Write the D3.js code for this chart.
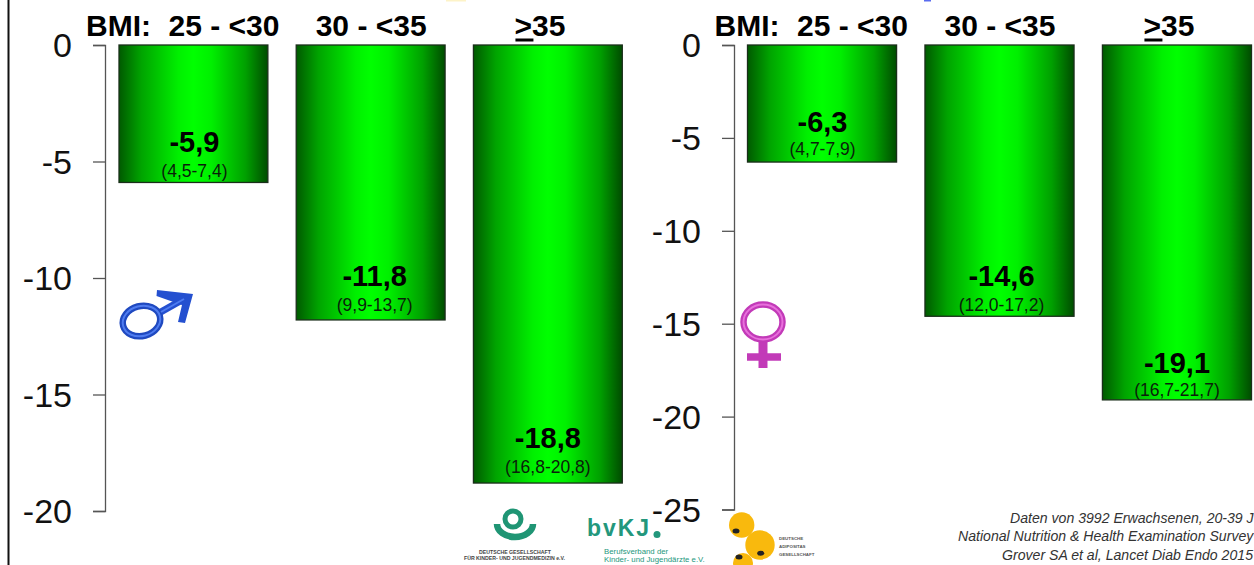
<!DOCTYPE html>
<html>
<head>
<meta charset="utf-8">
<style>
html, body { margin: 0; padding: 0; background: #fff; overflow: hidden; }
text { font-family: "Liberation Sans", Arial, sans-serif; }
.tick text { font-size: 34px; fill: #111; }
.tick line, .domain { stroke: #555; stroke-width: 1.3px; }
</style>
<script src="https://cdnjs.cloudflare.com/ajax/libs/d3/7.8.5/d3.min.js"></script>
</head>
<body>
<svg id="chart" width="1254" height="565"></svg>
<script>
var categories = ['25 - <30', '30 - <35', '>35'];
var menValues = [-5.9, -11.8, -18.8];
var menRanges = ['(4,5-7,4)', '(9,9-13,7)', '(16,8-20,8)'];
var womenValues = [-6.3, -14.6, -19.1];
var womenRanges = ['(4,7-7,9)', '(12,0-17,2)', '(16,7-21,7)'];
var menTicks = [0, -5, -10, -15, -20];
var womenTicks = [0, -5, -10, -15, -20, -25];
var sourceLines = [
    'Daten von 3992 Erwachsenen, 20-39 J',
    'National Nutrition & Health Examination Survey',
    'Grover SA et al, Lancet Diab Endo 2015'
];

// labels were placed by hand on the slide, so each panel keeps its own nudges
var menLabelNudge = { value: [30, 34, 35], range: [5, 9, 10], x: [1, 4, 0] };
var womenLabelNudge = { value: [30, 30, 27], range: [7, 5, 3.5], x: [0.5, 2, 0] };

var svg = d3.select('#chart');
var defs = svg.append('defs');

var grad = defs.append('linearGradient').attr('id', 'barGreen');
grad.append('stop').attr('offset', '0%').attr('stop-color', '#005a00');
grad.append('stop').attr('offset', '15%').attr('stop-color', '#00a400');
grad.append('stop').attr('offset', '40%').attr('stop-color', '#00f000');
grad.append('stop').attr('offset', '50%').attr('stop-color', '#00ff00');
grad.append('stop').attr('offset', '62%').attr('stop-color', '#00f000');
grad.append('stop').attr('offset', '85%').attr('stop-color', '#00a000');
grad.append('stop').attr('offset', '100%').attr('stop-color', '#004c00');

// frame line on the left
svg.append('line')
    .attr('x1', 8.5).attr('x2', 8.5).attr('y1', 0).attr('y2', 565)
    .attr('stroke', '#111').attr('stroke-width', 2);

function panel(values, ranges, ticks, nudge, axisX, barLeft, barSpan, yBottom) {
    var y = d3.scaleLinear()
        .domain([0, ticks[ticks.length - 1]])
        .range([45, yBottom]);
    var x = d3.scaleBand()
        .domain(categories)
        .range([barLeft, barLeft + barSpan])
        .paddingInner(0.16);

    var axis = svg.append('g')
        .attr('transform', 'translate(' + axisX + ',0)')
        .call(d3.axisLeft(y).tickValues(ticks).tickSize(12).tickPadding(21).tickFormat(function(d) { return String(d); }));
    axis.selectAll('.tick text').attr('dy', '0.35em');

    var bars = svg.append('g').selectAll('g')
        .data(values)
        .enter().append('g');

    bars.append('rect')
        .attr('x', function(d, i) { return x(categories[i]); })
        .attr('y', y(0))
        .attr('width', x.bandwidth())
        .attr('height', function(d) { return y(d) - y(0); })
        .attr('fill', 'url(#barGreen)')
        .attr('stroke', '#1a2e1a')
        .attr('stroke-width', 1.3);

    bars.append('text')
        .attr('x', function(d, i) { return x(categories[i]) + x.bandwidth() / 2 + nudge.x[i]; })
        .attr('y', function(d, i) { return y(d) - nudge.value[i]; })
        .attr('text-anchor', 'middle')
        .attr('font-size', 29)
        .attr('font-weight', 'bold')
        .attr('fill', '#000')
        .text(function(d) { return String(d).replace('.', ','); });

    bars.append('text')
        .attr('x', function(d, i) { return x(categories[i]) + x.bandwidth() / 2 + nudge.x[i]; })
        .attr('y', function(d, i) { return y(d) - nudge.range[i]; })
        .attr('text-anchor', 'middle')
        .attr('font-size', 17.5)
        .attr('fill', '#0a1f0a')
        .text(function(d, i) { return ranges[i]; });

    // column heads
    svg.append('g').selectAll('text')
        .data(categories)
        .enter().append('text')
        .attr('y', 36)
        .attr('font-size', 30)
        .attr('font-weight', 'bold')
        .attr('fill', '#000')
        .attr('text-anchor', 'middle')
        .attr('x', function(d, i) { return x(d) + x.bandwidth() / 2 + [30.5, 0.5, -8][i]; })
        .text(function(d) { return d; });

    svg.append('text')
        .attr('x', barLeft - 33)
        .attr('y', 36)
        .attr('font-size', 30)
        .attr('font-weight', 'bold')
        .text('BMI:');

    // underline under the > sign, it means "at least"
    svg.append('rect')
        .attr('x', x(categories[2]) + 42)
        .attr('y', 38.5)
        .attr('width', 18)
        .attr('height', 3)
        .attr('fill', '#000');
}

panel(menValues, menRanges, menTicks, menLabelNudge, 105, 119, 503.3, 511);
panel(womenValues, womenRanges, womenTicks, womenLabelNudge, 734, 747.5, 504, 509.5);

// male symbol
var male = svg.append('g').attr('fill', 'none');
male.append('line').attr('x1', 159).attr('y1', 313).attr('x2', 182).attr('y2', 300)
    .attr('stroke', '#2450d0').attr('stroke-width', 7);
male.append('path').attr('d', 'M157,290 L193,294 L185,323 L178,322 L182,305 L156.5,296 Z')
    .attr('fill', '#2450d0');
male.append('ellipse').attr('cx', 141.5).attr('cy', 321).attr('rx', 19).attr('ry', 15)
    .attr('transform', 'rotate(-15 141.5 321)')
    .attr('stroke', '#1f49c0').attr('stroke-width', 6.5);
male.append('ellipse').attr('cx', 141.5).attr('cy', 321).attr('rx', 19).attr('ry', 15)
    .attr('transform', 'rotate(-15 141.5 321)')
    .attr('stroke', '#4f7cf0').attr('stroke-width', 2);
male.append('line').attr('x1', 161).attr('y1', 312).attr('x2', 184).attr('y2', 299)
    .attr('stroke', '#4f7cf0').attr('stroke-width', 2);

// female symbol
var female = svg.append('g').attr('fill', 'none').attr('stroke', '#c23ab8');
female.append('line').attr('x1', 763).attr('y1', 340).attr('x2', 763).attr('y2', 368)
    .attr('stroke-width', 9);
female.append('line').attr('x1', 747).attr('y1', 357).attr('x2', 781).attr('y2', 357)
    .attr('stroke-width', 7.5);
female.append('ellipse').attr('cx', 763).attr('cy', 322).attr('rx', 19.5).attr('ry', 17.5)
    .attr('stroke-width', 6.5);
female.append('ellipse').attr('cx', 763).attr('cy', 322).attr('rx', 19.5).attr('ry', 17.5)
    .attr('stroke', '#e870dc').attr('stroke-width', 2);

// source note, runs off the right edge like the slide it was cut from
svg.append('g').selectAll('text')
    .data(sourceLines)
    .enter().append('text')
    .attr('x', function(d, i) { return [1010, 958, 1002][i]; })
    .attr('y', function(d, i) { return 523 + i * 18.3; })
    .attr('font-size', 14.1)
    .attr('font-style', 'italic')
    .attr('fill', '#333')
    .text(function(d) { return d; });

// logo DGKJ
var dgkj = svg.append('g');
dgkj.append('circle').attr('cx', 513).attr('cy', 519).attr('r', 8)
    .attr('fill', 'none').attr('stroke', '#1f9574').attr('stroke-width', 5);
dgkj.append('path').attr('d', 'M497,524 A18,13 0 0 0 533,524')
    .attr('fill', 'none').attr('stroke', '#1f9574').attr('stroke-width', 6.5);
dgkj.append('text').attr('x', 515).attr('y', 554).attr('text-anchor', 'middle')
    .attr('font-size', 5.2).attr('font-weight', 'bold').attr('fill', '#444').text('DEUTSCHE GESELLSCHAFT');
dgkj.append('text').attr('x', 514.5).attr('y', 559.5).attr('text-anchor', 'middle')
    .attr('font-size', 5.2).attr('font-weight', 'bold').attr('fill', '#444').text('FÜR KINDER- UND JUGENDMEDIZIN e.V.');

// logo bvkj
var bvkj = svg.append('g').attr('fill', '#23977c');
bvkj.append('text').attr('x', 587).attr('y', 536).attr('font-size', 23).attr('font-weight', 'bold')
    .attr('font-family', '"DejaVu Sans"').attr('textLength', 62).text('bvKJ');
bvkj.append('circle').attr('cx', 657).attr('cy', 534.5).attr('r', 3.5);
bvkj.append('text').attr('x', 604).attr('y', 553.5).attr('font-size', 7.8).attr('font-family', '"Open Sans"')
    .text('Berufsverband der');
bvkj.append('text').attr('x', 604).attr('y', 562).attr('font-size', 7.8).attr('font-family', '"Open Sans"')
    .text('Kinder- und Jugendärzte e.V.');

// logo DAG
var dag = svg.append('g');
var dagDots = [[741.7, 525, 12.7], [760, 545, 14.7], [743, 563, 10]];
dag.selectAll('circle.big').data(dagDots).enter().append('circle')
    .attr('class', 'big')
    .attr('cx', function(d) { return d[0]; }).attr('cy', function(d) { return d[1]; }).attr('r', function(d) { return d[2]; })
    .attr('fill', '#f9b90d');
var dagEyes = [[736, 531], [760.7, 553.3], [739, 557]];
dag.selectAll('ellipse').data(dagEyes).enter().append('ellipse')
    .attr('cx', function(d) { return d[0]; }).attr('cy', function(d) { return d[1]; })
    .attr('rx', 3.5).attr('ry', 2.5).attr('fill', '#222');
['DEUTSCHE', 'ADIPOSITAS', 'GESELLSCHAFT'].forEach(function(t, i) {
    dag.append('text').attr('x', 779).attr('y', 540 + i * 8)
        .attr('font-size', 4.4).attr('fill', '#555').attr('font-weight', 'bold').text(t);
});

// what is left of the cropped slide title
svg.append('rect').attr('x', 446).attr('y', 0).attr('width', 20).attr('height', 1.5).attr('fill', '#fdf3c8');
svg.append('rect').attr('x', 924).attr('y', 0).attr('width', 7).attr('height', 1.5).attr('fill', '#5a6cf0');
</script>
</body>
</html>
